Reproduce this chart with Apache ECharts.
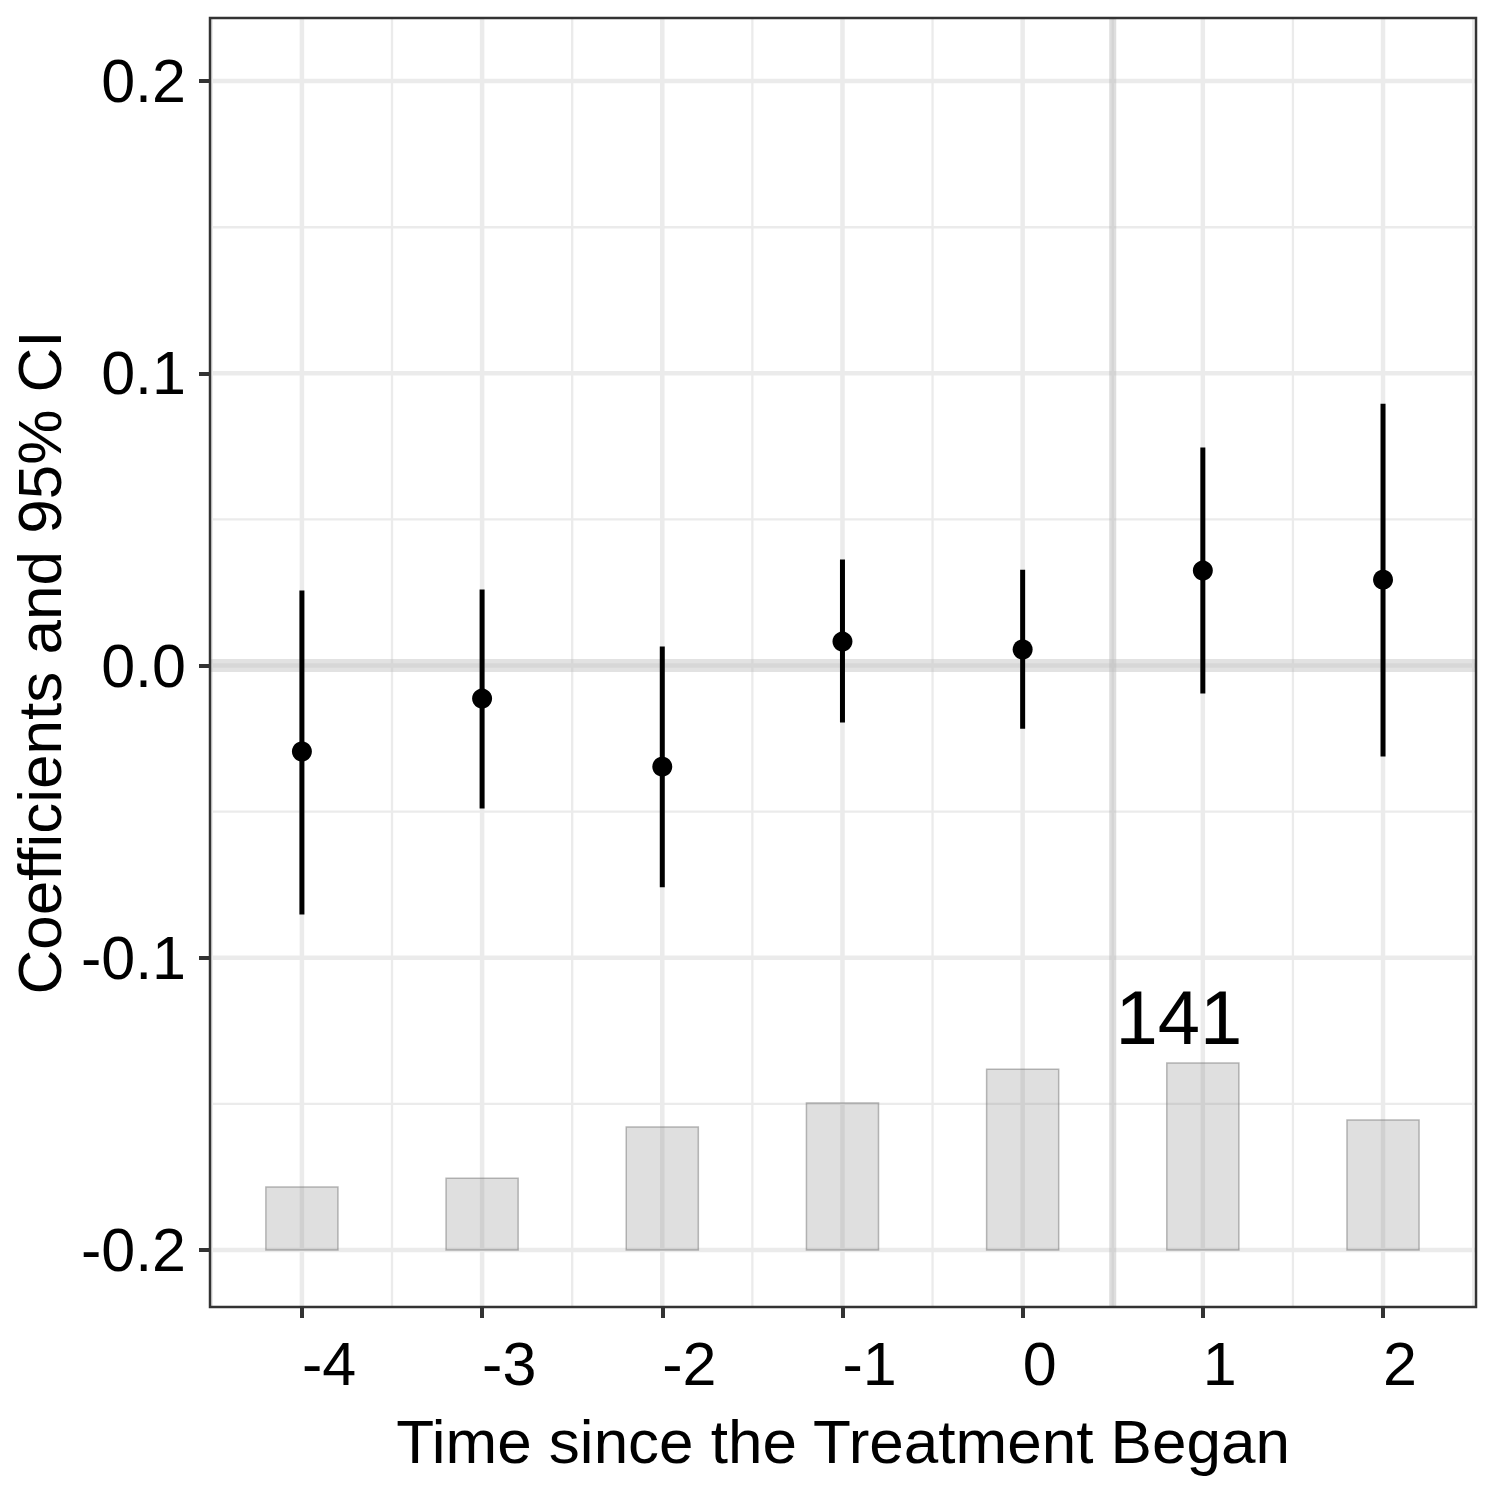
<!DOCTYPE html>
<html><head><meta charset="utf-8">
<script src="https://cdn.jsdelivr.net/npm/echarts@6/dist/echarts.min.js"></script>
<style>html,body{margin:0;padding:0;background:#fff}#chart{width:1500px;height:1500px}</style>
</head><body><div id="chart"></div>
<script>
// ---- data ----
const periods = [-4, -3, -2, -1, 0, 1, 2];
const coef    = [-0.0294, -0.0113, -0.0346, 0.0082, 0.0055, 0.0325, 0.0294];
const ciLow   = [-0.0852, -0.0489, -0.0759, -0.0195, -0.0216, -0.0096, -0.0311];
const ciHigh  = [0.0257, 0.0260, 0.0065, 0.0363, 0.0328, 0.0746, 0.0896];
const barTop  = [-0.1784, -0.1754, -0.1579, -0.1497, -0.1381, -0.1360, -0.1555];
const barBase = -0.2;
const barHalfWidth = 0.2;
const xTicks = [-4, -3, -2, -1, 0, 1, 2];
const xMinor = [-4.5, -3.5, -2.5, -1.5, -0.5, 0.5, 1.5, 2.5];
const yTicks = [-0.2, -0.1, 0, 0.1, 0.2];
const yMinor = [-0.15, -0.05, 0.05, 0.15];
const xRange = [-4.51, 2.516];
const yRange = [-0.2195, 0.2216];
const refX = [0.5];
const refY = [0];
const annotX = [1];
const annotY = [-0.1205];
const annotText = ['141'];
const xTitle = 'Time since the Treatment Began';
const yTitle = 'Coefficients and 95% CI';

const FONT = '"Liberation Sans", Arial, Helvetica, sans-serif';

function vLines(width, color) {
  return function (params, api) {
    const x = api.value(0);
    const p1 = api.coord([x, yRange[0]]);
    const p2 = api.coord([x, yRange[1]]);
    return {type: 'line', shape: {x1: p1[0], y1: p1[1], x2: p2[0], y2: p2[1]},
      style: {stroke: color, lineWidth: width}};
  };
}
function hLines(width, color) {
  return function (params, api) {
    const y = api.value(1);
    const p1 = api.coord([xRange[0], y]);
    const p2 = api.coord([xRange[1], y]);
    return {type: 'line', shape: {x1: p1[0], y1: p1[1], x2: p2[0], y2: p2[1]},
      style: {stroke: color, lineWidth: width}};
  };
}

const GRID_COLOR = '#ebebeb';

const chart = echarts.init(document.getElementById('chart'), null, {renderer: 'svg'});
chart.setOption({
  animation: false,
  backgroundColor: '#ffffff',
  grid: {left: 209, top: 18, right: 24, bottom: 193, show: false},
  xAxis: {
    type: 'value', min: xRange[0], max: xRange[1],
    axisLine: {show: false, onZero: false},
    splitLine: {show: false},
    axisTick: {show: true, customValues: xTicks, length: 11, lineStyle: {color: '#333333', width: 4}},
    axisLabel: {show: true, customValues: xTicks, align: 'left', margin: 26, fontSize: 61,
      color: '#000', fontFamily: FONT, formatter: v => String(v)},
    name: xTitle, nameLocation: 'middle', nameGap: 103,
    nameTextStyle: {fontSize: 62, color: '#000', fontFamily: FONT}
  },
  yAxis: {
    type: 'value', min: yRange[0], max: yRange[1],
    axisLine: {show: false, onZero: false},
    splitLine: {show: false},
    axisTick: {show: true, customValues: yTicks, length: 11, lineStyle: {color: '#333333', width: 4}},
    axisLabel: {show: true, customValues: yTicks, margin: 24, fontSize: 61,
      color: '#000', fontFamily: FONT, formatter: v => v.toFixed(1)},
    name: yTitle, nameLocation: 'middle', nameRotate: 90, nameGap: 121,
    nameTextStyle: {fontSize: 62, color: '#000', fontFamily: FONT}
  },
  series: [
    {type: 'custom', z: 1, silent: true, data: xMinor.map(v => [v, 0]), renderItem: vLines(2.3, GRID_COLOR)},
    {type: 'custom', z: 1, silent: true, data: yMinor.map(v => [0, v]), renderItem: hLines(2.3, GRID_COLOR)},
    {type: 'custom', z: 1, silent: true, data: xTicks.map(v => [v, 0]), renderItem: vLines(4.5, GRID_COLOR)},
    {type: 'custom', z: 1, silent: true, data: yTicks.map(v => [0, v]), renderItem: hLines(4.5, GRID_COLOR)},
    {type: 'custom', z: 2, silent: true,
      data: periods.map((p, i) => [p, barTop[i]]),
      renderItem: function (params, api) {
        const x = api.value(0), top = api.value(1);
        const tl = api.coord([x - barHalfWidth, top]);
        const br = api.coord([x + barHalfWidth, barBase]);
        return {type: 'rect', shape: {x: tl[0], y: tl[1], width: br[0] - tl[0], height: br[1] - tl[1]},
          style: {fill: 'rgba(128,128,128,0.25)', stroke: 'rgba(128,128,128,0.55)', lineWidth: 1.5}};
      }},
    {type: 'custom', z: 3, silent: true, data: refY.map(v => [0, v]), renderItem: hLines(13, 'rgba(190,190,190,0.45)')},
    {type: 'custom', z: 3, silent: true, data: refX.map(v => [v, 0]), renderItem: vLines(7, 'rgba(190,190,190,0.5)')},
    {type: 'custom', z: 4, silent: true,
      data: periods.map((p, i) => [p, ciLow[i], ciHigh[i]]),
      renderItem: function (params, api) {
        const x = api.value(0);
        const p1 = api.coord([x, api.value(1)]);
        const p2 = api.coord([x, api.value(2)]);
        return {type: 'line', shape: {x1: p1[0], y1: p1[1], x2: p2[0], y2: p2[1]},
          style: {stroke: '#000', lineWidth: 5, lineCap: 'butt'}};
      }},
    {type: 'scatter', z: 5, silent: true, symbol: 'circle', symbolSize: 20,
      itemStyle: {color: '#000', opacity: 1}, data: periods.map((p, i) => [p, coef[i]])},
    {type: 'scatter', z: 5, silent: true, symbolSize: 0,
      itemStyle: {opacity: 1},
      data: annotX.map((x, i) => ({value: [x, annotY[i]], name: annotText[i]})),
      label: {show: true, position: 'inside', offset: [-24, 0], formatter: p => p.name,
        fontSize: 76, color: '#000', opacity: 1, textBorderWidth: 0, fontFamily: FONT}},
    {type: 'custom', z: 10, silent: true, data: [[0, 0]],
      renderItem: function (params, api) {
        const cs = params.coordSys;
        return {type: 'rect', shape: {x: cs.x, y: cs.y, width: cs.width, height: cs.height},
          style: {fill: 'none', stroke: '#333333', lineWidth: 2.5}};
      }}
  ]
});
</script>
</body></html>
